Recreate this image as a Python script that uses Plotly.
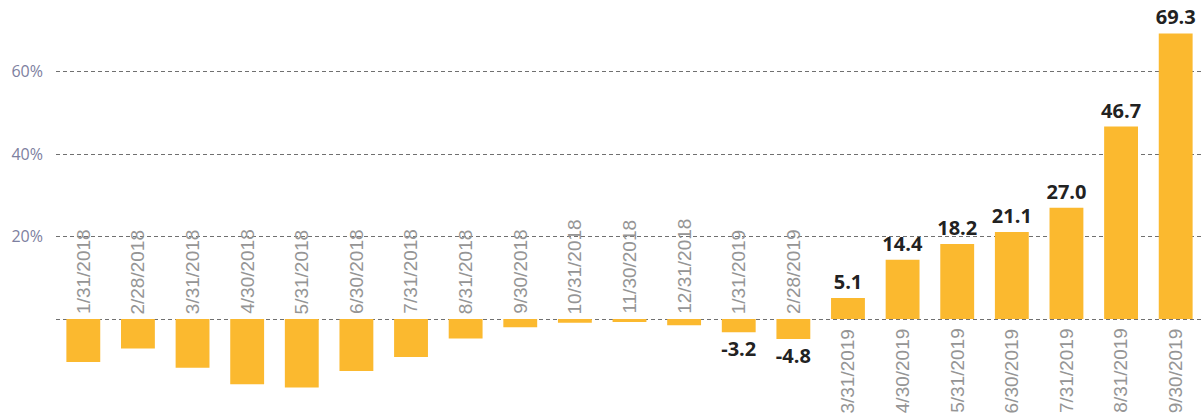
import plotly.graph_objects as go

categories = ["1/31/2018", "2/28/2018", "3/31/2018", "4/30/2018", "5/31/2018", "6/30/2018",
              "7/31/2018", "8/31/2018", "9/30/2018", "10/31/2018", "11/30/2018", "12/31/2018",
              "1/31/2019", "2/28/2019", "3/31/2019", "4/30/2019", "5/31/2019", "6/30/2019",
              "7/31/2019", "8/31/2019", "9/30/2019"]
values = [-10.4, -7.1, -11.8, -15.8, -16.6, -12.6, -9.2, -4.7, -2.0, -0.9, -0.7, -1.5,
          -3.2, -4.8, 5.1, 14.4, 18.2, 21.1, 27.0, 46.7, 69.3]
labels = ["", "", "", "", "", "", "", "", "", "", "", "",
          "-3.2", "-4.8", "5.1", "14.4", "18.2", "21.1", "27.0", "46.7", "69.3"]
tick_vals = [0, 20, 40, 60]
tick_text = ["", "20%", "40%", "60%"]

BAR = "#FBB92F"
DATE_FONT = dict(family="Liberation Sans Narrow, Liberation Sans", size=19, color="#959595")

fig = go.Figure()
fig.add_trace(go.Bar(
    x=categories, y=values, width=0.62,
    marker=dict(color=BAR, line=dict(width=0)),
    text=labels, textposition="outside", constraintext="none", cliponaxis=False,
    textfont=dict(family="Open Sans", size=20, color="#222222", weight="bold"),
))

for c, v in zip(categories, values):
    if v < 0:
        fig.add_annotation(x=c, y=0, text=c, textangle=-90, showarrow=False,
                           xanchor="center", yanchor="bottom", yshift=3, font=DATE_FONT)
    else:
        fig.add_annotation(x=c, y=0, text=c, textangle=-90, showarrow=False,
                           xanchor="center", yanchor="top", yshift=-7, font=DATE_FONT)

fig.update_layout(
    width=1203, height=416,
    margin=dict(l=56, r=0, t=0, b=0),
    plot_bgcolor="white", paper_bgcolor="white",
    showlegend=False,
)
fig.update_xaxes(showticklabels=False, showgrid=False, zeroline=False, showline=False,
                 range=[-0.5, 20.5])
fig.update_yaxes(range=[-23.5, 77.4], tickvals=tick_vals, ticktext=tick_text,
                 showgrid=True, gridcolor="#707070", gridwidth=1, griddash="4px,3px",
                 zeroline=False, showline=False, ticks="", ticklabelstandoff=12,
                 tickfont=dict(family="Open Sans", size=16, color="#7d80a0"))

fig.write_html("out.html")
